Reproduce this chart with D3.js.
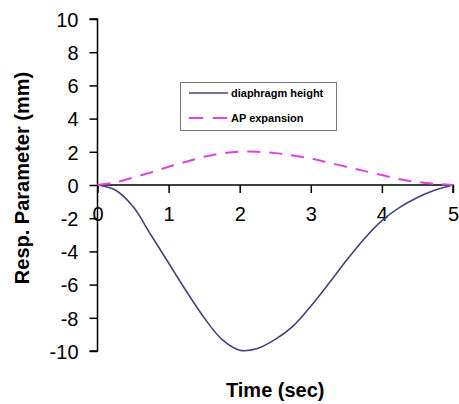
<!DOCTYPE html>
<html>
<head>
<meta charset="utf-8">
<script src="https://cdn.jsdelivr.net/npm/d3@7"></script>
<style>
  body { margin: 0; background: #fff; }
  svg { display: block; font-family: "Liberation Sans", Arial, sans-serif; }
</style>
</head>
<body>
<svg width="459" height="404"></svg>
<script>
var times = [0, 0.25, 0.5, 0.75, 1, 1.25, 1.5, 1.75, 2, 2.25, 2.5, 2.75, 3, 3.25, 3.5, 3.75, 4, 4.25, 4.5, 4.75, 5];
var diaphragm = [0, -0.3, -1.3, -3.0, -4.7, -6.4, -8.0, -9.3, -9.95, -9.85, -9.3, -8.5, -7.3, -5.95, -4.55, -3.25, -2.15, -1.35, -0.75, -0.3, 0];
var apExpansion = [0, 0.15, 0.45, 0.75, 1.1, 1.4, 1.7, 1.9, 2.0, 2.0, 1.92, 1.78, 1.6, 1.35, 1.1, 0.85, 0.6, 0.35, 0.18, 0.07, 0];
var xTicks = [0, 1, 2, 3, 4, 5];
var yTicks = [-10, -8, -6, -4, -2, 0, 2, 4, 6, 8, 10];
var seriesNames = ["diaphragm height", "AP expansion"];

var svg = d3.select("svg");

var x = d3.scaleLinear().domain([0, 5]).range([97.5, 453]),
    y = d3.scaleLinear().domain([-10, 10]).range([351, 19]);

var line = d3.line()
    .curve(d3.curveCatmullRom.alpha(0.5))
    .x(function(d) { return x(d.t); })
    .y(function(d) { return y(d.v); });

function pts(vals) {
    return times.map(function(t, i) { return {t: t, v: vals[i]}; });
}

// Y axis
var yAxis = svg.append("g")
    .attr("transform", "translate(" + x(0) + ",0)")
    .call(d3.axisLeft(y).tickValues(yTicks).tickSize(8).tickPadding(11).tickFormat(function(d) { return String(d); }));
yAxis.select(".domain").attr("stroke", "#000").attr("stroke-width", 1.5).attr("d", "M-8," + y(10) + "H0V" + y(-10) + "H-8");
yAxis.selectAll(".tick line").attr("stroke-width", 1.5);
yAxis.selectAll(".tick text").style("font-size", "20px").attr("fill", "#000").attr("dy", "0.36em");

// X axis
var xAxis = svg.append("g")
    .attr("transform", "translate(0," + y(0) + ")")
    .call(d3.axisBottom(x).tickValues(xTicks).tickSize(8).tickPadding(14).tickFormat(function(d) { return String(d); }));
xAxis.select(".domain").attr("stroke", "#000").attr("stroke-width", 1.5).attr("d", "M" + x(0) + ",0H" + x(5) + "V8");
xAxis.selectAll(".tick line").attr("stroke-width", 1.5);
xAxis.selectAll(".tick text").style("font-size", "20px").attr("fill", "#000");

// Lines
svg.append("path")
    .attr("d", line(pts(diaphragm)))
    .attr("fill", "none")
    .attr("stroke", "#45437f")
    .attr("stroke-width", 1.6);

svg.append("path")
    .attr("d", line(pts(apExpansion)))
    .attr("fill", "none")
    .attr("stroke", "#dd44dd")
    .attr("stroke-width", 2)
    .attr("stroke-dasharray", "13,9");

// Legend
var legend = svg.append("g");
legend.append("rect")
    .attr("x", 180.5).attr("y", 82.5)
    .attr("width", 156).attr("height", 48)
    .attr("fill", "#fff").attr("stroke", "#777").attr("stroke-width", 1);
legend.append("line")
    .attr("x1", 189).attr("x2", 228).attr("y1", 93).attr("y2", 93)
    .attr("stroke", "#45437f").attr("stroke-width", 1.6);
legend.append("line")
    .attr("x1", 189).attr("x2", 228).attr("y1", 118).attr("y2", 118)
    .attr("stroke", "#dd44dd").attr("stroke-width", 2).attr("stroke-dasharray", "14,10");
legend.selectAll("text.lg")
    .data(seriesNames)
    .enter().append("text")
    .attr("class", "lg")
    .attr("x", 231)
    .attr("y", function(d, i) { return 93 + i * 25; })
    .attr("dy", "0.35em")
    .style("font-size", "11px")
    .style("font-weight", "bold")
    .text(function(d) { return d; });

// Axis titles
svg.append("text")
    .attr("x", (x(0) + x(5)) / 2)
    .attr("y", 397)
    .attr("text-anchor", "middle")
    .style("font-size", "20px")
    .style("font-weight", "bold")
    .text("Time (sec)");

svg.append("text")
    .attr("transform", "translate(29,178) rotate(-90)")
    .attr("text-anchor", "middle")
    .style("font-size", "20px")
    .style("font-weight", "bold")
    .text("Resp. Parameter (mm)");
</script>
</body>
</html>
